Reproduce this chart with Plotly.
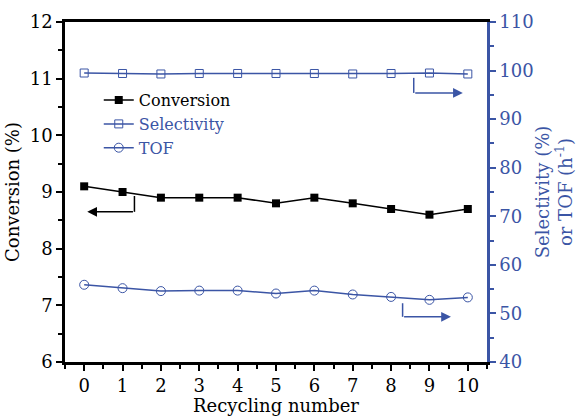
import plotly.graph_objects as go

cycles = [0, 1, 2, 3, 4, 5, 6, 7, 8, 9, 10]
conversion = [9.1, 9.0, 8.9, 8.9, 8.9, 8.8, 8.9, 8.8, 8.7, 8.6, 8.7]
selectivity = [99.5, 99.4, 99.3, 99.4, 99.4, 99.4, 99.4, 99.3, 99.4, 99.5, 99.3]
tof = [55.9, 55.2, 54.6, 54.7, 54.7, 54.1, 54.7, 53.9, 53.4, 52.8, 53.3]

BLUE = "#3B55A5"
FONT = "DejaVu Serif"

fig = go.Figure()
fig.add_trace(go.Scatter(x=cycles, y=conversion, name="Conversion", mode="lines+markers",
                         line=dict(color="black", width=1.5),
                         marker=dict(symbol="square", size=8, color="black")))
fig.add_trace(go.Scatter(x=cycles, y=selectivity, name=f"<span style='color:{BLUE}'>Selectivity</span>",
                         mode="lines+markers", yaxis="y2",
                         line=dict(color=BLUE, width=1.5),
                         marker=dict(symbol="square-open", size=8, color=BLUE, line=dict(width=1))))
fig.add_trace(go.Scatter(x=cycles, y=tof, name=f"<span style='color:{BLUE}'>TOF</span>",
                         mode="lines+markers", yaxis="y2",
                         line=dict(color=BLUE, width=1.5),
                         marker=dict(symbol="circle-open", size=9, color=BLUE, line=dict(width=1))))

# L-shaped indicator arrows
def l_arrow(x0, y0, y1, x1, color, yref):
    fig.add_shape(type="line", x0=x0, x1=x0, y0=y0, y1=y1, xref="x", yref=yref,
                  line=dict(color=color, width=1.5))
    fig.add_annotation(x=x1, y=y1, ax=x0, ay=y1, xref="x", yref=yref, axref="x", ayref=yref,
                       showarrow=True, arrowhead=2, arrowsize=1.3, arrowwidth=1.5,
                       arrowcolor=color, text="")

l_arrow(1.31, 8.93, 8.65, 0.08, "black", "y")
l_arrow(8.59, 98.5, 95.4, 9.87, BLUE, "y2")
l_arrow(8.30, 52.1, 49.3, 9.56, BLUE, "y2")

tfont = dict(family=FONT, size=18, color="black")
bfont = dict(family=FONT, size=18, color=BLUE)

fig.update_layout(
    width=576, height=416,
    margin=dict(l=65, r=89, t=22, b=54),
    paper_bgcolor="white", plot_bgcolor="white",
    font=dict(family=FONT, size=18, color="black"),
    showlegend=True,
    legend=dict(x=0.08, y=0.82, xanchor="left", yanchor="top",
                bgcolor="rgba(0,0,0,0)", font=dict(size=16, family=FONT, color="black"),
                tracegroupgap=0, itemwidth=30),
    xaxis=dict(range=[-0.5, 10.5], tickvals=cycles, showgrid=False, zeroline=False,
               automargin=False, tickfont=tfont,
               showline=True, linecolor="black", linewidth=2.5, mirror=True,
               ticks="outside", ticklen=6, tickwidth=2, tickcolor="black",
               minor=dict(dtick=0.5, tick0=0.5, ticks="outside", ticklen=4, tickwidth=2, tickcolor="black"),
               title=dict(text="Recycling number", font=tfont, standoff=8)),
    yaxis=dict(range=[6, 12], dtick=1, showgrid=False, zeroline=False,
               automargin=False, tickfont=tfont,
               showline=True, linecolor="black", linewidth=2.5,
               ticks="outside", ticklen=6, tickwidth=2, tickcolor="black",
               minor=dict(dtick=0.5, ticks="outside", ticklen=4, tickwidth=2, tickcolor="black"),
               title=dict(text="Conversion (%)", font=tfont, standoff=6)),
    yaxis2=dict(range=[40, 110], dtick=10, overlaying="y", side="right",
                showgrid=False, zeroline=False, automargin=False,
                showline=True, linecolor=BLUE, linewidth=2.5,
                ticks="outside", ticklen=6, tickwidth=2, tickcolor=BLUE,
                tickfont=bfont,
                minor=dict(dtick=5, ticks="outside", ticklen=4, tickwidth=2, tickcolor=BLUE),
                title=dict(text="Selectivity (%)<br>or TOF (h<sup>-1</sup>)",
                           font=bfont, standoff=6)),
)

fig.write_html("out.html")
